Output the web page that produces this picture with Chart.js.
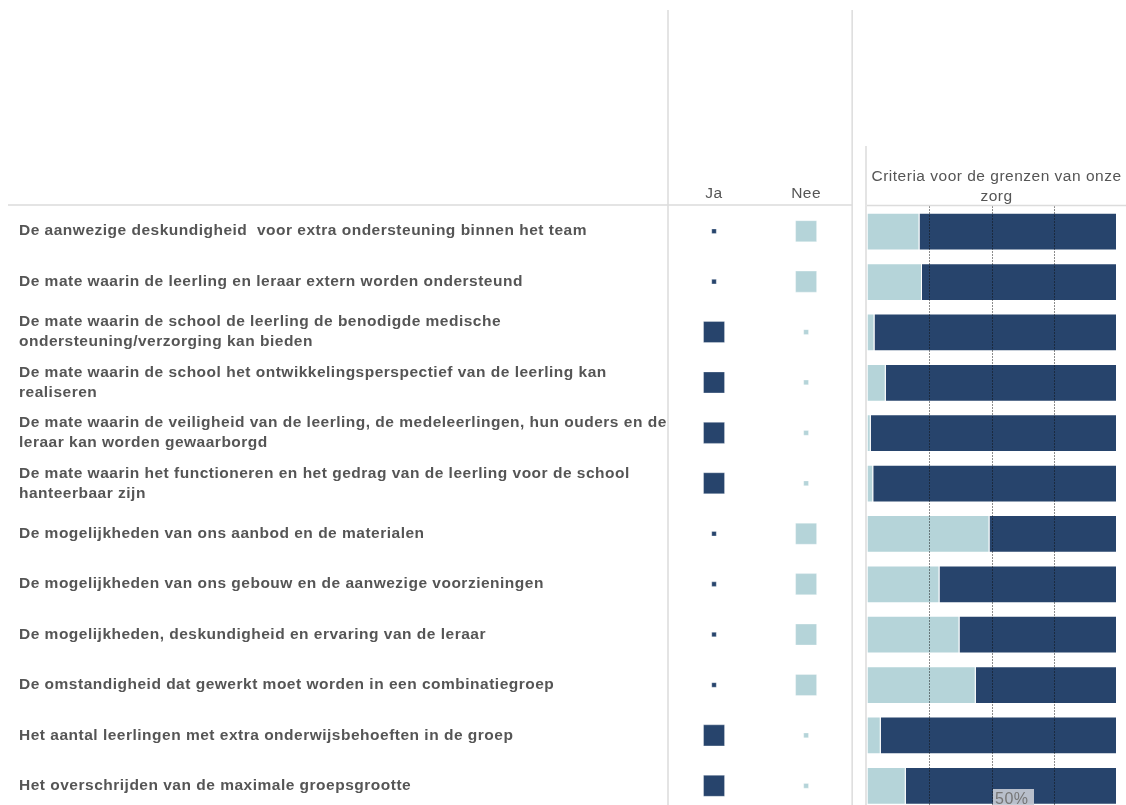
<!DOCTYPE html>
<html>
<head>
<meta charset="utf-8">
<script src="https://cdn.jsdelivr.net/npm/chart.js@4/dist/chart.umd.min.js"></script>
<style>
  html, body { margin: 0; padding: 0; background: #fff; overflow: hidden; }
  #wrap { position: relative; width: 1126px; height: 805px; overflow: hidden; }
  #tableChart { position: absolute; left: 0; top: 0; }
  #barChart { position: absolute; left: 858px; top: 0; }
</style>
</head>
<body>
<div id="wrap">
  <canvas id="tableChart" width="868" height="830"></canvas>
  <canvas id="barChart" width="268" height="830"></canvas>
</div>
<script>
// criteria (rows)
const criteria = [
  'De aanwezige deskundigheid  voor extra ondersteuning binnen het team',
  'De mate waarin de leerling en leraar extern worden ondersteund',
  ['De mate waarin de school de leerling de benodigde medische', 'ondersteuning/verzorging kan bieden'],
  ['De mate waarin de school het ontwikkelingsperspectief van de leerling kan', 'realiseren'],
  ['De mate waarin de veiligheid van de leerling, de medeleerlingen, hun ouders en de', 'leraar kan worden gewaarborgd'],
  ['De mate waarin het functioneren en het gedrag van de leerling voor de school', 'hanteerbaar zijn'],
  'De mogelijkheden van ons aanbod en de materialen',
  'De mogelijkheden van ons gebouw en de aanwezige voorzieningen',
  'De mogelijkheden, deskundigheid en ervaring van de leraar',
  'De omstandigheid dat gewerkt moet worden in een combinatiegroep',
  'Het aantal leerlingen met extra onderwijsbehoeften in de groep',
  'Het overschrijden van de maximale groepsgrootte'
];

const answers = ['Ja', 'Nee'];

// answer of this school per criterium
const schoolAnswer = ['Nee', 'Nee', 'Ja', 'Ja', 'Ja', 'Ja', 'Nee', 'Nee', 'Nee', 'Nee', 'Ja', 'Ja'];

// share of all schools (%)
const neePct = [21, 22, 3, 7.5, 1.5, 2.5, 49, 29, 37, 43.5, 5.5, 15.5];
const jaPct  = [79, 78, 97, 92.5, 98.5, 97.5, 51, 71, 63, 56.5, 94.5, 84.5];

const xTicks = [0, 25, 50, 75, 100];

const DARK = '#27446c';
const LIGHT = '#b5d4d9';
const TEXT = '#555555';
const LINE = '#dcdcdc';
const FONT = "'Liberation Sans', Arial, sans-serif";

Chart.defaults.font.family = FONT;
Chart.defaults.color = TEXT;
Chart.defaults.animation = false;

// the original font is a bit wider than Arial
const wideText = {
  id: 'wideText',
  beforeDraw(chart) { chart.ctx.letterSpacing = '0.5px'; }
};

// lines of the table around the squares
const tableFrame = {
  id: 'tableFrame',
  afterDraw(chart) {
    const { ctx, chartArea } = chart;
    ctx.save();
    ctx.strokeStyle = LINE;
    ctx.lineWidth = 1.5;
    ctx.beginPath();
    ctx.moveTo(8, chartArea.top - 1);
    ctx.lineTo(chartArea.right, chartArea.top - 1);
    ctx.moveTo(chartArea.left, 10);
    ctx.lineTo(chartArea.left, chart.height);
    ctx.moveTo(chartArea.right, 10);
    ctx.lineTo(chartArea.right, chart.height);
    ctx.stroke();
    ctx.restore();
  }
};

const squareData = (answer) => criteria.map((c, i) => ({ x: answer, y: i, big: schoolAnswer[i] === answer }));

new Chart(document.getElementById('tableChart'), {
  type: 'scatter',
  data: {
    datasets: [
      {
        label: 'Ja',
        data: squareData('Ja'),
        backgroundColor: DARK,
        borderColor: 'rgba(255,255,255,0.3)',
        borderWidth: 1,
        pointStyle: 'rect',
        pointRadius: ctx => ctx.raw && ctx.raw.big ? 14.85 : 3.2
      },
      {
        label: 'Nee',
        data: squareData('Nee'),
        backgroundColor: LIGHT,
        borderColor: 'rgba(255,255,255,0.3)',
        borderWidth: 1,
        pointStyle: 'rect',
        pointRadius: ctx => ctx.raw && ctx.raw.big ? 14.85 : 3.4
      }
    ]
  },
  options: {
    responsive: false,
    layout: { padding: { left: 19, right: 0, top: 0, bottom: 19 } },
    plugins: { legend: { display: false }, tooltip: { enabled: false } },
    events: [],
    scales: {
      x: {
        type: 'category',
        labels: answers,
        position: 'top',
        offset: true,
        grid: { display: false, drawTicks: false },
        border: { display: false },
        ticks: { font: { size: 15.5 }, color: TEXT, padding: 3 },
        afterFit: s => { s.height = 206; }
      },
      y: {
        type: 'category',
        labels: criteria,
        offset: true,
        grid: { display: false, drawTicks: false },
        border: { display: false },
        ticks: {
          autoSkip: false,
          crossAlign: 'far',
          font: { size: 15.5, weight: 'bold', lineHeight: 20 / 15.5 },
          color: TEXT
        },
        afterFit: s => { s.width = 649; }
      }
    }
  },
  plugins: [wideText, tableFrame]
});

// axis line, header line and the 50% label
const barFrame = {
  id: 'barFrame',
  afterDraw(chart) {
    const { ctx, chartArea } = chart;
    const xs = chart.scales.x;
    ctx.save();
    ctx.strokeStyle = LINE;
    ctx.lineWidth = 1.5;
    ctx.beginPath();
    ctx.moveTo(chartArea.left - 1, 146);
    ctx.lineTo(chartArea.left - 1, chart.height);
    ctx.moveTo(chartArea.left, chartArea.top - 1);
    ctx.lineTo(chart.width, chartArea.top - 1);
    ctx.stroke();

    const tick = xs.ticks.find(t => t.value === 50);
    if (tick) {
      const x = xs.getPixelForValue(tick.value) + 1;
      const y = chartArea.bottom - 22;
      ctx.fillStyle = 'rgba(196,202,212,0.92)';
      ctx.fillRect(x, y, 41, 22);
      ctx.fillStyle = '#767676';
      ctx.font = '16px ' + FONT;
      ctx.letterSpacing = '0.5px';
      ctx.textBaseline = 'top';
      ctx.textAlign = 'left';
      ctx.fillText(tick.value + '%', x + 2, y + 3);
    }
    ctx.restore();
  }
};

new Chart(document.getElementById('barChart'), {
  type: 'bar',
  data: {
    labels: criteria,
    datasets: [
      {
        label: 'Nee',
        data: neePct,
        backgroundColor: LIGHT,
        borderColor: 'rgba(255,255,255,0.35)',
        borderWidth: 1,
        barPercentage: 0.75,
        categoryPercentage: 1
      },
      {
        label: 'Ja',
        data: jaPct,
        backgroundColor: DARK,
        borderColor: 'rgba(255,255,255,0.35)',
        borderWidth: 1,
        barPercentage: 0.75,
        categoryPercentage: 1
      }
    ]
  },
  options: {
    indexAxis: 'y',
    responsive: false,
    layout: { padding: { left: 9, right: 0, top: 159, bottom: 19 } },
    events: [],
    plugins: {
      legend: { display: false },
      tooltip: { enabled: false },
      title: {
        display: true,
        text: ['Criteria voor de grenzen van onze', 'zorg'],
        color: TEXT,
        font: { size: 15.5, weight: 'normal', lineHeight: 20 / 15.5 },
        padding: { top: 7.5, bottom: 0 }
      }
    },
    scales: {
      x: {
        stacked: true,
        min: 0,
        max: 100,
        afterBuildTicks: s => { s.ticks = xTicks.map(v => ({ value: v })); },
        ticks: { display: false },
        grid: {
          drawTicks: false,
          z: 1,
          lineWidth: 1,
          color: ctx => (ctx.tick && ctx.tick.value > 0 && ctx.tick.value < 100) ? 'rgba(15,15,15,0.95)' : 'rgba(0,0,0,0)'
        },
        border: { display: false, dash: [1, 2] }
      },
      y: {
        stacked: true,
        position: 'right',
        offset: true,
        ticks: { display: false },
        grid: { display: false, drawTicks: false },
        border: { display: false },
        afterFit: s => { s.width = 9; }
      }
    }
  },
  plugins: [wideText, barFrame]
});
</script>
</body>
</html>
